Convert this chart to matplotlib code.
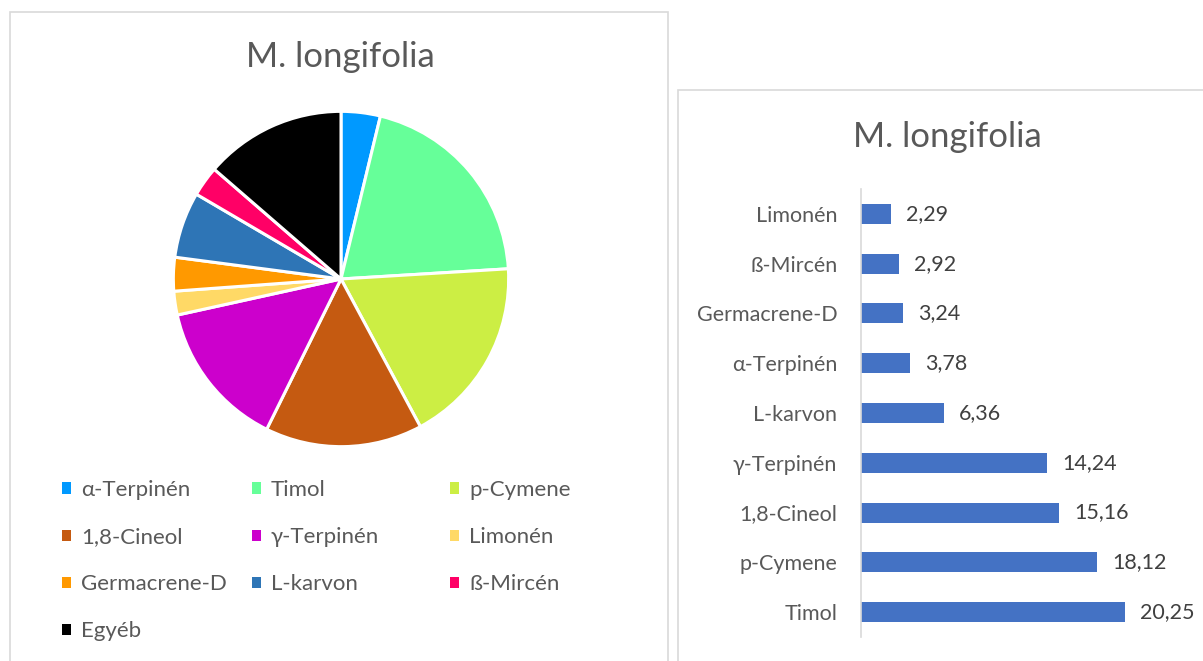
import matplotlib.pyplot as plt
from matplotlib.patches import Patch, Rectangle

plt.rcParams['font.family'] = ['Lato', 'DejaVu Sans']

# pie data
pie_labels = ['α-Terpinén', 'Timol', 'p-Cymene', '1,8-Cineol', 'γ-Terpinén',
              'Limonén', 'Germacrene-D', 'L-karvon', 'ß-Mircén', 'Egyéb']
pie_values = [3.78, 20.25, 18.12, 15.16, 14.24, 2.29, 3.24, 6.36, 2.92, 13.64]
pie_colors = ['#0099FF', '#66FF99', '#CCEE44', '#C55A11', '#CC00CC',
              '#FFD966', '#FF9900', '#2E75B6', '#FF0066', '#000000']

# bar data (top to bottom)
bar_labels = ['Limonén', 'ß-Mircén', 'Germacrene-D', 'α-Terpinén', 'L-karvon',
              'γ-Terpinén', '1,8-Cineol', 'p-Cymene', 'Timol']
bar_values = [2.29, 2.92, 3.24, 3.78, 6.36, 14.24, 15.16, 18.12, 20.25]

W, H = 1203, 661
fig = plt.figure(figsize=(W / 100, H / 100), dpi=100)


def box(x0, y0, x1, y1):
    # pixel coords from top-left -> figure fraction
    return [x0 / W, 1 - y1 / H, (x1 - x0) / W, (y1 - y0) / H]


# panel borders
for x0, y0, x1, y1 in [(10, 12, 668, 700), (678, 90, 1230, 700)]:
    b = box(x0, y0, x1, y1)
    fig.patches.append(Rectangle((b[0], b[1]), b[2], b[3], transform=fig.transFigure,
                                 fill=False, edgecolor='#D9D9D9', linewidth=1.2))

# ---- pie ----
cx, cy, r = 341, 279, 171
ax1 = fig.add_axes(box(cx - r, cy - r, cx + r, cy + r))
wedges, _ = ax1.pie(pie_values, colors=pie_colors, startangle=90, counterclock=False,
                    radius=1, wedgeprops=dict(edgecolor='white', linewidth=2.2))
ax1.set_xlim(-1.02, 1.02)
ax1.set_ylim(-1.02, 1.02)
ax1.set_aspect('equal')
ax1.axis('off')
fig.text(340 / W, 1 - 57 / H, 'M. longifolia', ha='center', va='center',
         fontsize=25, color='#595959')

# legend, three columns placed separately
cols = [[0, 3, 6, 9], [1, 4, 7], [2, 5, 8]]
col_x = [62, 252, 450]
for idx, x in zip(cols, col_x):
    handles = [Patch(facecolor=pie_colors[i], edgecolor='none') for i in idx]
    fig.legend(handles, [pie_labels[i] for i in idx], loc='upper left',
               bbox_to_anchor=(x / W, 1 - 480 / H), frameon=False, fontsize=16,
               handlelength=0.4, handleheight=0.4, handletextpad=0.45,
               labelspacing=1.22, labelcolor='#595959', borderpad=0, borderaxespad=0)

# ---- bars ----
ax2 = fig.add_axes(box(861, 189, 1187, 637))
ypos = list(range(len(bar_labels)))
bars = ax2.barh(ypos, bar_values, height=0.4, color='#4472C4')
ax2.bar_label(bars, labels=[f'{v:.2f}'.replace('.', ',') for v in bar_values],
              padding=11, fontsize=15.5, color='#404040')
ax2.set_yticks(ypos, bar_labels)
ax2.set_ylim(len(bar_labels) - 0.5, -0.5)
ax2.set_xlim(0, 25)
ax2.set_xticks([])
ax2.tick_params(axis='y', length=0, pad=17, labelsize=15.5, labelcolor='#595959')
for s in ['top', 'right', 'bottom']:
    ax2.spines[s].set_visible(False)
ax2.spines['left'].set_color('#D9D9D9')
ax2.spines['left'].set_linewidth(1.2)
fig.text(947 / W, 1 - 137 / H, 'M. longifolia', ha='center', va='center',
         fontsize=25, color='#595959')

fig.savefig('out.png', dpi=100)
